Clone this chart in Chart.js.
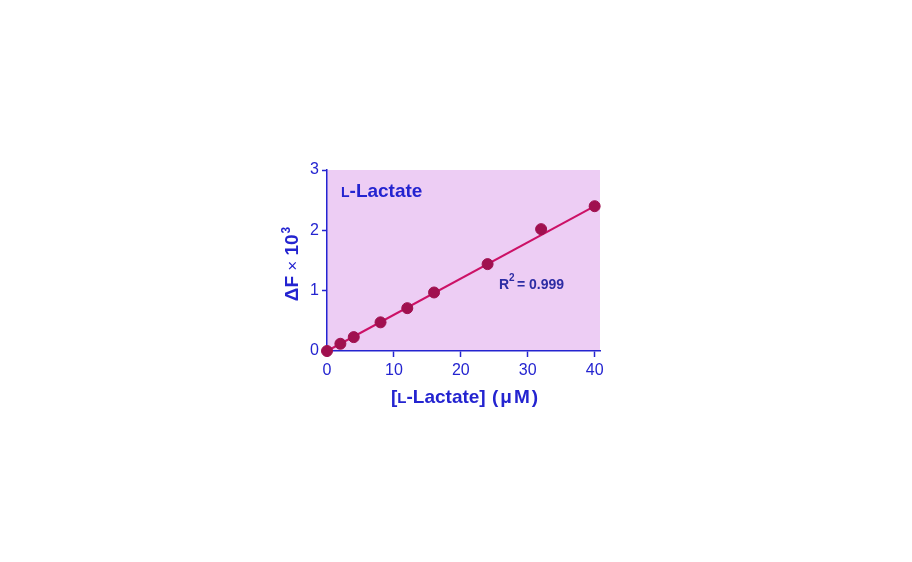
<!DOCTYPE html>
<html>
<head>
<meta charset="utf-8">
<script src="https://cdn.jsdelivr.net/npm/chart.js@4"></script>
<style>
  html, body { margin: 0; padding: 0; background: #fff; }
  #wrap { width: 912px; height: 562px; position: relative; }
</style>
</head>
<body>
<div id="wrap"><canvas id="chart"></canvas></div>
<script>
// standard curve values
const lactateUM = [0, 2, 4, 8, 12, 16, 24, 32, 40];
const deltaF = [0, 0.12, 0.23, 0.475, 0.71, 0.97, 1.44, 2.02, 2.40];
const fitX = [0, 40];
const fitY = [0, 2.40];
const xTicks = [0, 10, 20, 30, 40];
const yTicks = [0, 1, 2, 3];

const blue = "#2424d0";
const navy = "#2c2ca4";
const font = "'Liberation Sans', Arial, sans-serif";

// light purple plot background + text labels
const decor = {
    id: "decor",
    beforeDraw(chart) {
        const { ctx, chartArea: a } = chart;
        ctx.save();
        ctx.fillStyle = "#edcdf4";
        ctx.fillRect(a.left, a.top, a.right - a.left, a.bottom - a.top);
        ctx.restore();
    },
    afterDraw(chart) {
        const ctx = chart.ctx;
        ctx.save();
        ctx.fillStyle = blue;
        ctx.textBaseline = "alphabetic";
        ctx.textAlign = "left";

        // "L-Lactate" label inside the plot (small-caps L)
        ctx.font = "bold 14px " + font;
        ctx.fillText("L", 341, 197);
        let w = ctx.measureText("L").width;
        ctx.font = "bold 19px " + font;
        ctx.fillText("-Lactate", 341 + w, 197);

        // R^2 label
        ctx.fillStyle = navy;
        ctx.font = "bold 14px " + font;
        ctx.fillText("R", 499, 289);
        w = ctx.measureText("R").width;
        ctx.font = "bold 10px " + font;
        ctx.fillText("2", 499 + w, 281);
        ctx.font = "bold 14px " + font;
        ctx.fillText(" = 0.999", 499 + w + 4, 289);
        ctx.fillStyle = blue;

        // x axis title
        let x = 391;
        const yb = 403;
        const put = (s, f, gap) => {
            ctx.font = f + "px " + font;
            ctx.fillText(s, x, yb);
            x += ctx.measureText(s).width + gap;
        };
        put("[", "bold 19", 0);
        put("L", "bold 15", 0);
        put("-Lactate] ", "bold 19", 1);
        put("(", "bold 19", 2);
        put("μ", "bold 19", 2);
        put("M", "bold 19", 2);
        put(")", "bold 19", 0);

        // y axis title, rotated
        ctx.translate(298, 264);
        ctx.rotate(-Math.PI / 2);
        const parts = [["ΔF ", "bold 19px "], ["×", "17px "], [" 10", "bold 19px "]];
        let total = 0;
        parts.forEach(p => { ctx.font = p[1] + font; total += ctx.measureText(p[0]).width; });
        ctx.font = "bold 12px " + font;
        total += ctx.measureText("3").width + 1;
        let px = -total / 2;
        parts.forEach(p => {
            ctx.font = p[1] + font;
            ctx.fillText(p[0], px, 0);
            px += ctx.measureText(p[0]).width;
        });
        ctx.font = "bold 12px " + font;
        ctx.fillText("3", px + 1, -8);
        ctx.restore();
    }
};

new Chart(document.getElementById("chart"), {
    type: "scatter",
    data: {
        datasets: [{
            type: "line",
            data: fitX.map((v, i) => ({ x: v, y: fitY[i] })),
            borderColor: "#cc1166",
            borderWidth: 2,
            pointRadius: 0,
            clip: false,
            order: 2
        }, {
            data: lactateUM.map((v, i) => ({ x: v, y: deltaF[i] })),
            backgroundColor: "#a0104f",
            borderColor: "#a0104f",
            pointRadius: 5.5,
            clip: false,
            order: 1
        }]
    },
    plugins: [decor],
    options: {
        responsive: true,
        maintainAspectRatio: false,
        animation: false,
        layout: { padding: { left: 297, top: 170, right: 312, bottom: 181 } },
        plugins: { legend: { display: false }, tooltip: { enabled: false } },
        scales: {
            x: {
                type: "linear",
                min: 0,
                max: 40.8,
                afterBuildTicks: s => { s.ticks = xTicks.map(v => ({ value: v })); },
                afterFit: s => { s.height = 30; },
                grid: { drawOnChartArea: false, color: blue, tickLength: 6, tickWidth: 1.5 },
                border: { color: blue, width: 1.5 },
                ticks: { color: blue, padding: 4, maxRotation: 0, autoSkip: false, font: { family: font, size: 16 } }
            },
            y: {
                min: 0,
                max: 3,
                afterBuildTicks: s => { s.ticks = yTicks.map(v => ({ value: v })); },
                afterFit: s => { s.width = 30; },
                grid: { drawOnChartArea: false, color: blue, tickLength: 5, tickWidth: 1.5 },
                border: { color: blue, width: 1.5 },
                ticks: { color: blue, padding: 3, autoSkip: false, font: { family: font, size: 16 } }
            }
        }
    }
});
</script>
</body>
</html>
